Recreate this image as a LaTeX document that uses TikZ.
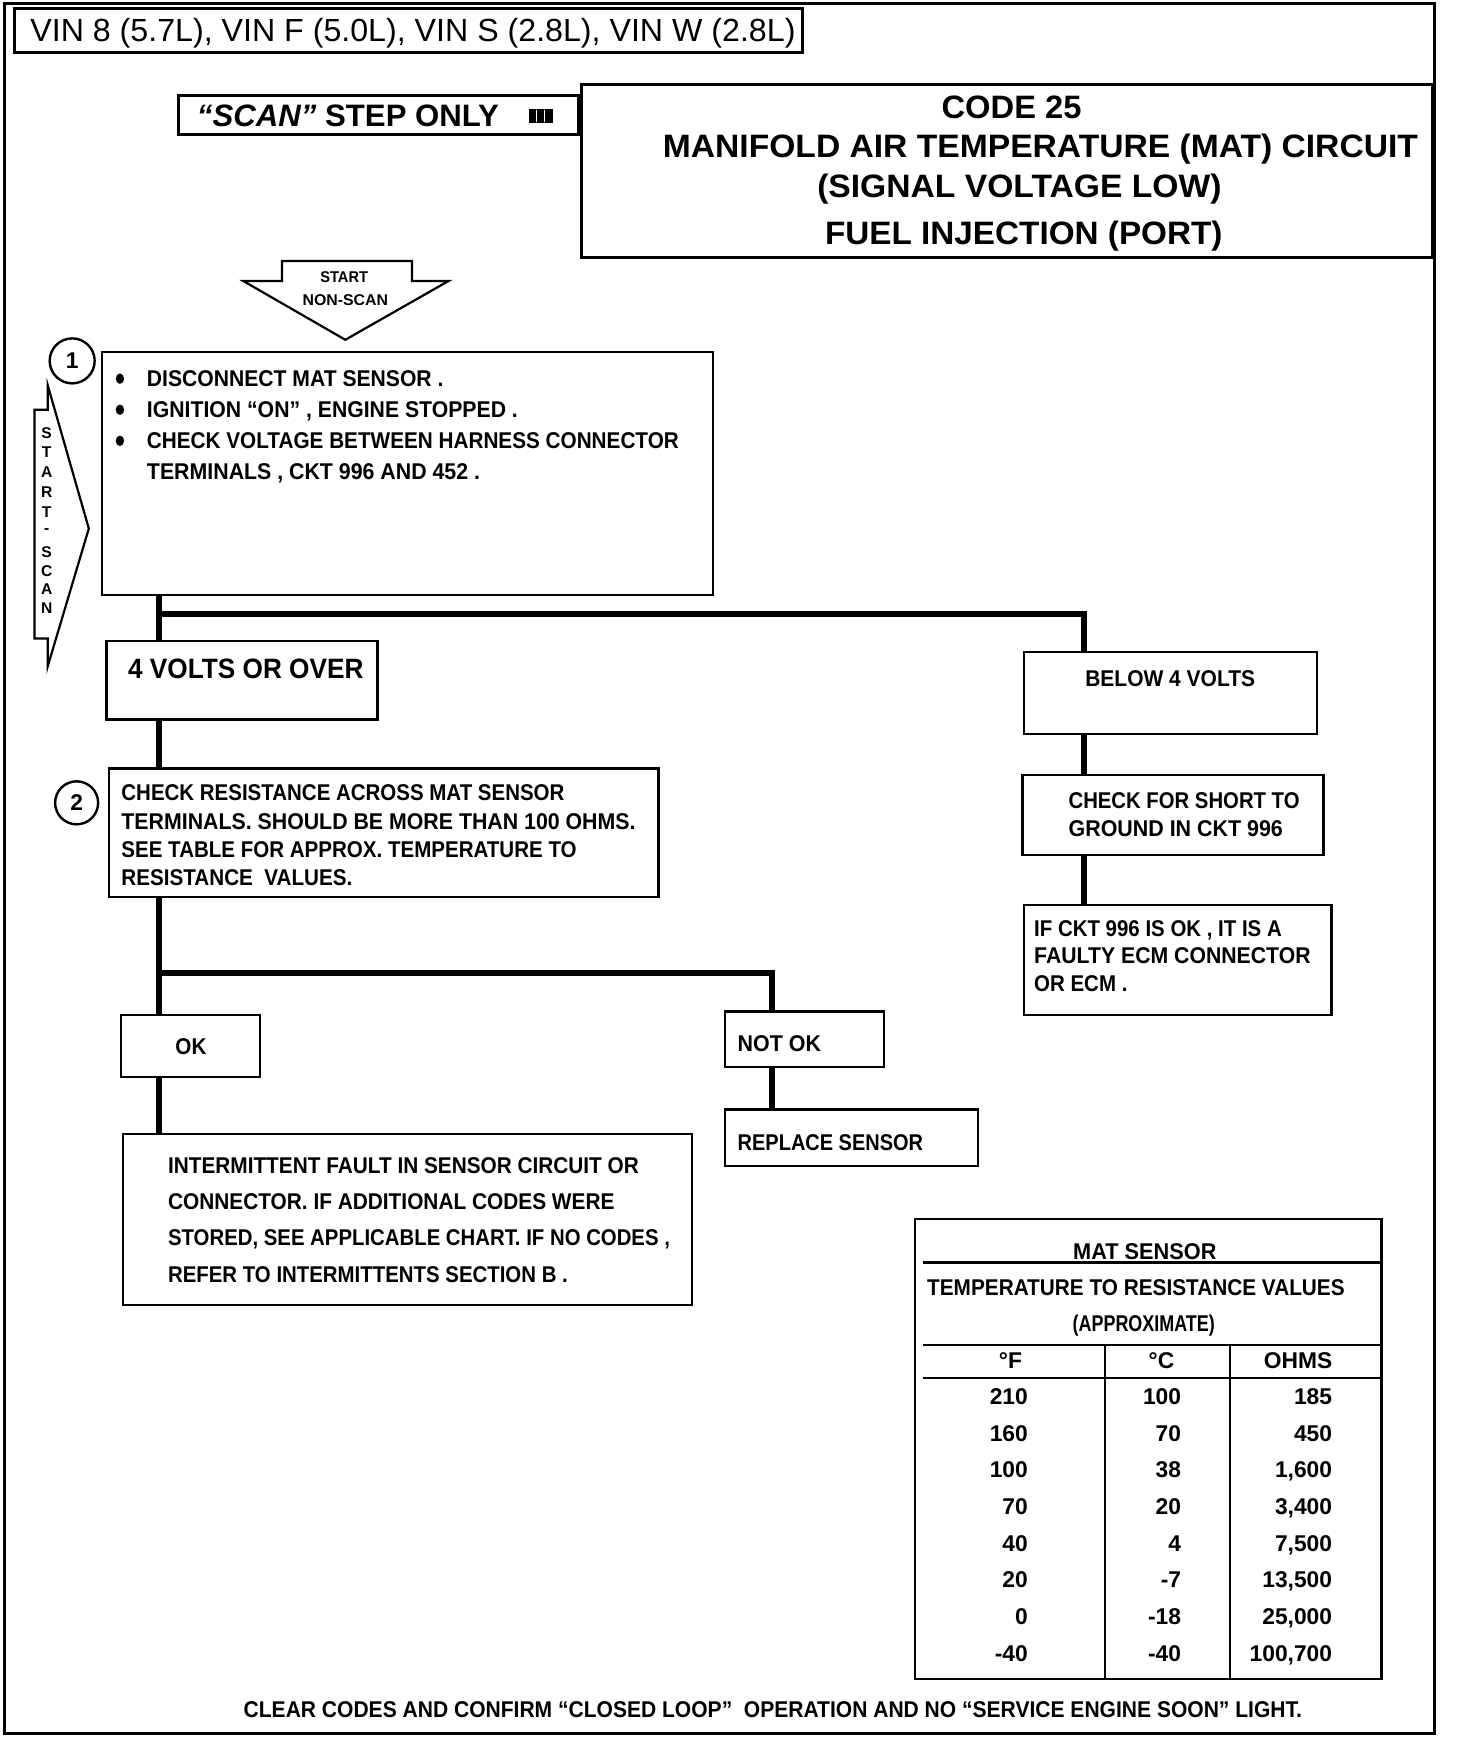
\documentclass[tikz,border=0pt]{standalone}
\usepackage{fontspec}
\usepackage{graphicx}
\setmainfont{Liberation Sans}
\usetikzlibrary{fit}
\newlength\wu \setlength\wu{0.5552pt}
\newcommand\fw[2]{\resizebox{#1\wu}{\height}{#2}}
\newcommand\mybody{\fontsize{11.4}{13}\selectfont\bfseries}
\newcommand\mytitle{\fontsize{16.2}{19}\selectfont\bfseries}
\newcommand\myvolt{\fontsize{14}{16}\selectfont\bfseries}
\newcommand\myvin{\fontsize{16}{19}\selectfont}
\newcommand\myscan{\fontsize{15.5}{18}\selectfont\bfseries}
\newcommand\mysmall{\fontsize{7.8}{9}\selectfont\bfseries}
\tikzset{
  box/.style={draw, line width=1.2pt, inner sep=0pt},
  hbox/.style={draw, line width=1.6pt, inner sep=0pt},
  shp/.style={draw, line width=1.1pt, line join=miter},
  conn/.style={line width=2.9pt},
  tl/.style={anchor=base west, inner sep=0pt, font=\mybody},
  tc/.style={anchor=base, inner sep=0pt, font=\mybody},
  tr/.style={anchor=base east, inner sep=0pt, font=\mybody},
  tline/.style={line width=1.1pt},
  num/.style={circle, draw, line width=1.2pt, inner sep=0pt, font=\mybody}
}
\begin{document}
\begin{tikzpicture}[x=0.5552pt, y=-0.5552pt]
\useasboundingbox (0,0) rectangle (1311.3,1567);
\fill[white] (0,0) rectangle (1311.3,1567);
\draw[line width=1.7pt] (4,3) rectangle (1292,1561);

% header
\node[hbox, fit={(13,8) (723,47)}] (vinbox) {};
\node[tl, font=\myvin] (vin) at (27,37) {\fw{689}{VIN 8 (5.7L), VIN F (5.0L), VIN S (2.8L), VIN W (2.8L)}};

\node[hbox, fit={(161,86) (521,121)}] (scanbox) {};
\node[tl, font=\myscan] (scan) at (177,114) {\fw{272}{\textit{“SCAN”} STEP ONLY}};
\fill (476,98) rectangle (498,111);
\draw[white, line width=0.6pt] (483,99) -- (483,110) (490,99) -- (490,110);

\node[hbox, fit={(524,76) (1290,232)}] (titlebox) {};
\node[tc, font=\mytitle] (t1) at (911,107) {\fw{126}{CODE 25}};
\node[tc, font=\mytitle] (t2) at (937,142) {\fw{680}{MANIFOLD AIR TEMPERATURE (MAT) CIRCUIT}};
\node[tc, font=\mytitle] (t3) at (918,178) {\fw{364}{(SIGNAL VOLTAGE LOW)}};
\node[tc, font=\mytitle] (t4) at (922,220) {\fw{358}{FUEL INJECTION (PORT)}};

% start arrows
\draw[shp] (254,235) -- (371,235) -- (371,253) -- (404,253) -- (311,306) -- (219,253) -- (254,253) -- cycle;
\node[tc, font=\mysmall] (st1) at (310,254) {\fw{43}{START}};
\node[tc, font=\mysmall] (st2) at (311,275) {\fw{77}{NON-SCAN}};

\draw[shp] (43,347) -- (80,476) -- (43,600) -- (43,575) -- (31,575) -- (31,369) -- (43,369) -- cycle;
\foreach \l/\yy in {S/390,T/407,A/425,R/443,T/461,-/478,S/497,C/514,A/531,N/548}
  \node[anchor=center, inner sep=0pt, font=\mysmall] at (42,\yy) {\l};

% step 1
\node[num, minimum size=22.5pt] (c1) at (65,325) {1};
\node[box, fit={(92,317) (642,536)}] (b1) {};
\foreach \yy in {341,369,397}
  \fill (108,\yy) ellipse [x radius=2.1pt, y radius=2.6pt];
\node[tl] (b1a) at (132,348) {\fw{267}{DISCONNECT MAT SENSOR .}};
\node[tl] (b1b) at (132,376) {\fw{334}{IGNITION “ON” , ENGINE STOPPED .}};
\node[tl] (b1c) at (132,404) {\fw{479}{CHECK VOLTAGE BETWEEN HARNESS CONNECTOR}};
\node[tl] (b1d) at (132,432) {\fw{300}{TERMINALS , CKT 996 AND 452 .}};

% result boxes
\node[box, fit={(96,577) (340,648)}] (v4) {};
\node[tl, font=\myvolt] (v4t) at (115,611) {\fw{212}{4 VOLTS OR OVER}};
\node[box, fit={(922,587) (1186,661)}] (bl) {};
\node[tl] (blt) at (977,618) {\fw{153}{BELOW 4 VOLTS}};

% step 2
\node[num, minimum size=21.5pt] (c2) at (69,723) {2};
\node[box, fit={(98,692) (593,808)}] (b2) {};
\node[tl] (b2a) at (109,721) {\fw{399}{CHECK RESISTANCE ACROSS MAT SENSOR}};
\node[tl] (b2b) at (109,747) {\fw{463}{TERMINALS. SHOULD BE MORE THAN 100 OHMS.}};
\node[tl] (b2c) at (109,772) {\fw{410}{SEE TABLE FOR APPROX. TEMPERATURE TO}};
\node[tl] (b2d) at (109,797) {\fw{208}{RESISTANCE\ \ VALUES.}};

% right branch
\node[box, fit={(921,698) (1192,770)}] (sh) {};
\node[tl] (sha) at (962,728) {\fw{208}{CHECK FOR SHORT TO}};
\node[tl] (shb) at (962,753) {\fw{193}{GROUND IN CKT 996}};
\node[box, fit={(922,815) (1199,914)}] (ec) {};
\node[tl] (eca) at (931,843) {\fw{223}{IF CKT 996 IS OK , IT IS A}};
\node[tl] (ecb) at (931,868) {\fw{249}{FAULTY ECM CONNECTOR}};
\node[tl] (ecc) at (931,893) {\fw{84}{OR ECM .}};

% OK / NOT OK
\node[box, fit={(109,914) (234,970)}] (ok) {};
\node[tc] (okt) at (172,950) {\fw{28}{OK}};
\node[box, fit={(653,911) (796,961)}] (nok) {};
\node[tl] (nokt) at (664,947) {\fw{75}{NOT OK}};
\node[box, fit={(653,999) (881,1050)}] (rep) {};
\node[tl] (rept) at (664,1036) {\fw{167}{REPLACE SENSOR}};
\node[box, fit={(111,1021) (623,1175)}] (im) {};
\node[tl] (ima) at (151,1057) {\fw{424}{INTERMITTENT FAULT IN SENSOR CIRCUIT OR}};
\node[tl] (imb) at (151,1089) {\fw{402}{CONNECTOR. IF ADDITIONAL CODES WERE}};
\node[tl] (imc) at (151,1122) {\fw{452}{STORED, SEE APPLICABLE CHART. IF NO CODES ,}};
\node[tl] (imd) at (151,1155) {\fw{360}{REFER TO INTERMITTENTS SECTION B .}};

% connectors
\coordinate (xL) at (143,0);
\coordinate (xR) at (976,0);
\coordinate (xN) at (695,0);
\coordinate (j1) at (143,553);
\coordinate (j2) at (143,876);
\draw[conn] (xL |- b1.south) -- (xL |- v4.north);
\draw[conn] (j1) -| (xR |- bl.north);
\draw[conn] (xL |- v4.south) -- (xL |- b2.north);
\draw[conn] (xR |- bl.south) -- (xR |- sh.north);
\draw[conn] (xR |- sh.south) -- (xR |- ec.north);
\draw[conn] (xL |- b2.south) -- (xL |- ok.north);
\draw[conn] (j2) -| (xN |- nok.north);
\draw[conn] (xN |- nok.south) -- (xN |- rep.north);
\draw[conn] (xL |- ok.south) -- (xL |- im.north);

% table
\node[box, fit={(824,1098) (1244,1512)}] (tbl) {};
\draw[tline] (831,1137) -- (1243,1137);
\draw[tline] (831,1211) -- (1243,1211);
\draw[tline] (831,1241) -- (1243,1241);
\draw[tline] (995,1211) -- (995,1512);
\draw[tline] (1108,1211) -- (1108,1512);
\node[tc] (tha) at (1031,1134) {\fw{129}{MAT SENSOR}};
\node[tc] (thb) at (1023,1167) {\fw{376}{TEMPERATURE TO RESISTANCE VALUES}};
\node[tc] (thc) at (1030,1199) {\fw{128}{(APPROXIMATE)}};
\node[tc] (hf) at (910,1232) {°F};
\node[tc] (hc) at (1046,1232) {°C};
\node[tc] (ho) at (1169,1232) {OHMS};
\foreach \f/\c/\o [count=\i from 0] in {210/100/185,160/70/450,100/38/1{,}600,70/20/3{,}400,40/4/7{,}500,20/-7/13{,}500,0/-18/25{,}000,-40/-40/100{,}700} {
  \node[tr] at (926,1265+33*\i) {\f};
  \node[tr] at (1064,1265+33*\i) {\c};
  \node[tr] at (1200,1265+33*\i) {\o};
}

% footer
\node[tc] (foot) at (696,1547) {\fw{953}{CLEAR CODES AND CONFIRM “CLOSED LOOP”\ \ OPERATION AND NO “SERVICE ENGINE SOON” LIGHT.}};
\end{tikzpicture}
\end{document}
